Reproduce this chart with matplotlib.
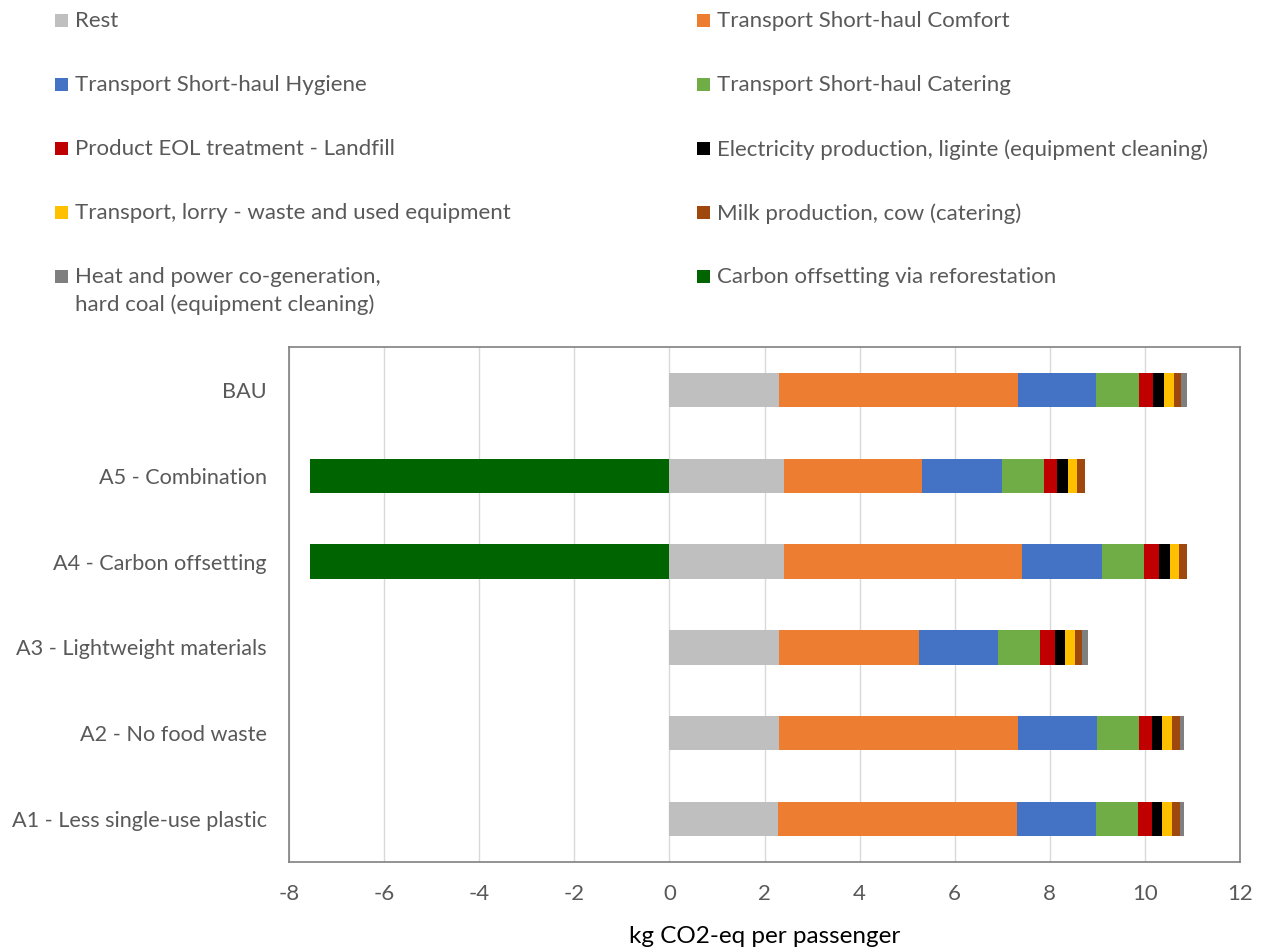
import matplotlib
matplotlib.use("Agg")
import matplotlib.pyplot as plt
from matplotlib.patches import Rectangle

plt.rcParams['font.family'] = ['Lato', 'DejaVu Sans']
plt.rcParams['axes.unicode_minus'] = False

scenarios = ["A1 - Less single-use plastic", "A2 - No food waste",
             "A3 - Lightweight materials", "A4 - Carbon offsetting",
             "A5 - Combination", "BAU"]

series_names = [
    "Rest",
    "Transport Short-haul Comfort",
    "Transport Short-haul Hygiene",
    "Transport Short-haul Catering",
    "Product EOL treatment - Landfill",
    "Electricity production, liginte (equipment cleaning)",
    "Transport, lorry - waste and used equipment",
    "Milk production, cow (catering)",
    "Heat and power co-generation,\nhard coal (equipment cleaning)",
    "Carbon offsetting via reforestation",
]

# values per scenario, order: A1, A2, A3, A4, A5, BAU
rest        = [2.29, 2.31, 2.31, 2.42, 2.40, 2.31]
comfort     = [5.02, 5.02, 2.94, 5.00, 2.92, 5.02]
hygiene     = [1.66, 1.66, 1.66, 1.68, 1.68, 1.65]
catering    = [0.88, 0.88, 0.89, 0.88, 0.88, 0.89]
landfill    = [0.29, 0.27, 0.31, 0.31, 0.28, 0.31]
lignite     = [0.22, 0.22, 0.22, 0.23, 0.22, 0.23]
lorry       = [0.20, 0.20, 0.20, 0.20, 0.20, 0.20]
milk        = [0.17, 0.17, 0.15, 0.16, 0.16, 0.15]
hard_coal   = [0.10, 0.10, 0.13, 0.00, 0.00, 0.12]
offsetting  = [0.00, 0.00, 0.00, -7.56, -7.56, 0.00]

colors = ["#BFBFBF", "#ED7D31", "#4472C4", "#70AD47", "#C00000",
          "#000000", "#FFC000", "#9E480E", "#7F7F7F", "#006400"]

positive = [rest, comfort, hygiene, catering, landfill, lignite, lorry, milk, hard_coal]

fig = plt.figure(figsize=(12.63, 9.49), dpi=100)
W, H = 1263, 949
ax = fig.add_axes([289 / W, 1 - 862 / H, (1240 - 289) / W, (862 - 347) / H])

text_col = "#595959"
y = list(range(len(scenarios)))
left = [0.0] * len(scenarios)
for vals, c in zip(positive, colors[:9]):
    ax.barh(y, vals, left=left, height=0.4, color=c, zorder=3)
    left = [l + v for l, v in zip(left, vals)]
ax.barh(y, offsetting, left=0, height=0.4, color=colors[9], zorder=3)

ax.set_xlim(-8, 12)
ax.set_ylim(-0.5, len(scenarios) - 0.5)
ax.set_xticks(range(-8, 13, 2))
ax.set_yticks(y)
ax.set_yticklabels(scenarios)
ax.tick_params(axis='both', length=0, labelsize=16, colors=text_col)
ax.tick_params(axis='y', labelsize=15.6)
ax.tick_params(axis='x', pad=16)
ax.tick_params(axis='y', pad=16)
ax.grid(axis='x', color="#D9D9D9", linewidth=1, zorder=0)
for s in ax.spines.values():
    s.set_color("#808080")
    s.set_linewidth(1.2)
ax.set_xlabel("kg CO2-eq per passenger", fontsize=17.5, color="#000000", labelpad=16)

# legend laid out in two columns above the plot
col_x = [55, 697]
row_y = [20, 84, 148, 212, 276]
for i, (name, c) in enumerate(zip(series_names, colors)):
    r, k = divmod(i, 2)
    x0, y0 = col_x[k], row_y[r]
    fig.patches.append(Rectangle((x0 / W, 1 - (y0 + 7) / H), 13 / W, 13 / H,
                                 transform=fig.transFigure, facecolor=c,
                                 edgecolor='none'))
    fig.text((x0 + 20) / W, 1 - (y0 - 9) / H, name, fontsize=16,
             color=text_col, va='top', ha='left', linespacing=1.45)

fig.savefig("out.png", dpi=100)
